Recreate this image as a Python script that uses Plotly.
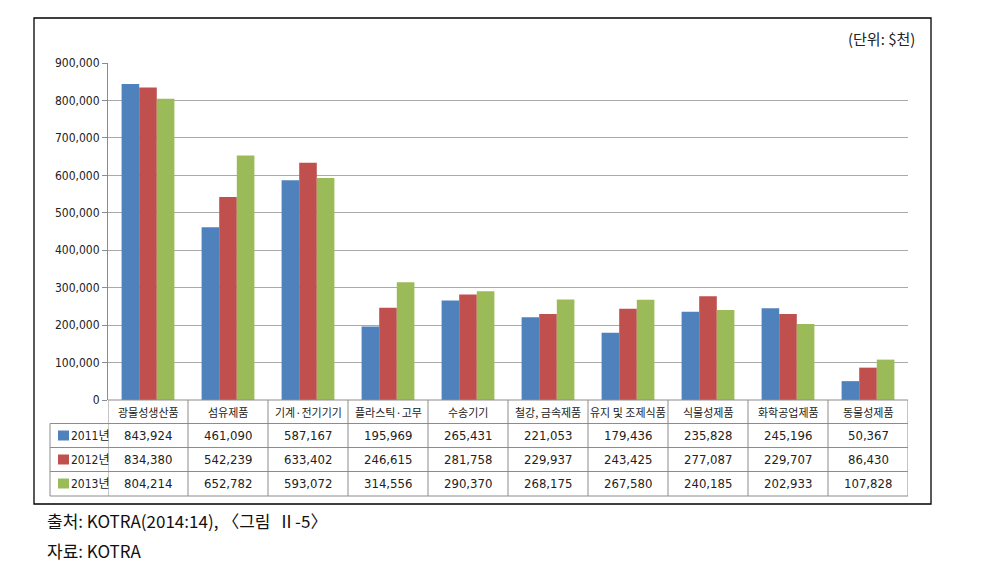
import plotly.graph_objects as go

categories = ["광물성생산품", "섬유제품", "기계·전기기기", "플라스틱·고무", "수송기기",
              "철강, 금속제품", "유지 및 조제식품", "식물성제품", "화학공업제품", "동물성제품"]
years = ["2011년", "2012년", "2013년"]
v2011 = [843924, 461090, 587167, 195969, 265431, 221053, 179436, 235828, 245196, 50367]
v2012 = [834380, 542239, 633402, 246615, 281758, 229937, 243425, 277087, 229707, 86430]
v2013 = [804214, 652782, 593072, 314556, 290370, 268175, 267580, 240185, 202933, 107828]
series = [v2011, v2012, v2013]
colors = ["#4F81BD", "#C0504D", "#9BBB59"]
yticks = [0, 100000, 200000, 300000, 400000, 500000, 600000, 700000, 800000, 900000]
unit_text = "(단위: $천)"
source_lines = ["출처: KOTRA(2014:14), 〈그림  Ⅱ-5〉", "자료: KOTRA"]

W, H = 992, 574
L, R, T, B = 108, 908, 63, 400  # plot area in pixels


def px(x):
    return (x - L) / (R - L)


def py(y):
    return (B - y) / (B - T)


NARROW = "DejaVu Sans Condensed, Liberation Sans Narrow, Noto Sans CJK KR, sans-serif"
KR = "Noto Sans CJK KR, sans-serif"

idx = list(range(len(categories)))
fig = go.Figure()
for name, vals, col in zip(years, series, colors):
    fig.add_trace(go.Bar(x=idx, y=vals, name=name, marker=dict(color=col, line=dict(width=0)),
                         hoverinfo="skip"))

shapes = []
annotations = []
shapes.append(dict(type="rect", xref="paper", yref="paper", x0=px(34), x1=px(931), y0=py(18), y1=py(504),
                   line=dict(color="black", width=1.3), fillcolor="rgba(0,0,0,0)", layer="below"))

line_col = "#8c8c8c"
row_edges = [400, 423.5, 447.5, 471.5, 496]
for i, ry in enumerate(row_edges):
    x0 = px(108) if i == 0 else px(50)
    shapes.append(dict(type="line", xref="paper", yref="paper", x0=x0, x1=px(908), y0=py(ry), y1=py(ry),
                       line=dict(color=line_col, width=1)))
for k in range(len(categories) + 1):
    shapes.append(dict(type="line", xref="x", yref="paper", x0=k - 0.5, x1=k - 0.5, y0=py(400), y1=py(496),
                       line=dict(color=line_col, width=1)))
shapes.append(dict(type="line", xref="paper", yref="paper", x0=px(50), x1=px(50), y0=py(423.5), y1=py(496),
                   line=dict(color=line_col, width=1)))

for i, c in enumerate(categories):
    annotations.append(dict(x=i, y=py(411.5), xref="x", yref="paper", text=c, showarrow=False,
                            font=dict(family=KR, size=11, color="#222"), xanchor="center", yanchor="middle"))
row_centers = [435.5, 459.5, 483.5]
for r, (name, vals, col) in enumerate(zip(years, series, colors)):
    yc = py(row_centers[r])
    shapes.append(dict(type="rect", xref="paper", yref="paper", x0=px(58), x1=px(69),
                       y0=py(row_centers[r] + 5), y1=py(row_centers[r] - 5),
                       fillcolor=col, line=dict(width=0)))
    annotations.append(dict(x=px(69), y=yc, xref="paper", yref="paper", text=name, showarrow=False,
                            font=dict(family=NARROW, size=12, color="#222"), xanchor="left", yanchor="middle"))
    for i, v in enumerate(vals):
        annotations.append(dict(x=i, y=yc, xref="x", yref="paper", text=f"{v:,}", showarrow=False,
                                font=dict(family=NARROW, size=13, color="#222"), xanchor="center",
                                yanchor="middle"))

annotations.append(dict(x=px(917), y=py(38), xref="paper", yref="paper", text=unit_text, showarrow=False,
                        font=dict(family=KR, size=15, color="#222"), xanchor="right", yanchor="middle"))
for j, t in enumerate(source_lines):
    annotations.append(dict(x=px(45), y=py(520 + j * 30), xref="paper", yref="paper", text=t, showarrow=False,
                            font=dict(family=KR, size=17, color="#111"), xanchor="left", yanchor="middle"))

fig.update_layout(
    width=W, height=H,
    margin=dict(l=L, r=W - R, t=T, b=H - B, pad=0),
    paper_bgcolor="white", plot_bgcolor="white",
    barmode="group", bargap=0.34, bargroupgap=0,
    showlegend=False,
    shapes=shapes, annotations=annotations,
    xaxis=dict(range=[-0.5, len(categories) - 0.5], showticklabels=False, ticks="", showgrid=False,
               zeroline=False, showline=False, fixedrange=True),
    yaxis=dict(range=[0, 900000], tickvals=yticks, tickformat=",d", ticks="outside", ticklen=5,
               tickcolor=line_col, showline=True, linecolor=line_col, linewidth=1,
               showgrid=True, gridcolor="#a9a9a9", gridwidth=1, zeroline=False,
               tickfont=dict(family=NARROW, size=12, color="#222"), fixedrange=True),
)

fig.write_html("out.html", config={"displayModeBar": False})
